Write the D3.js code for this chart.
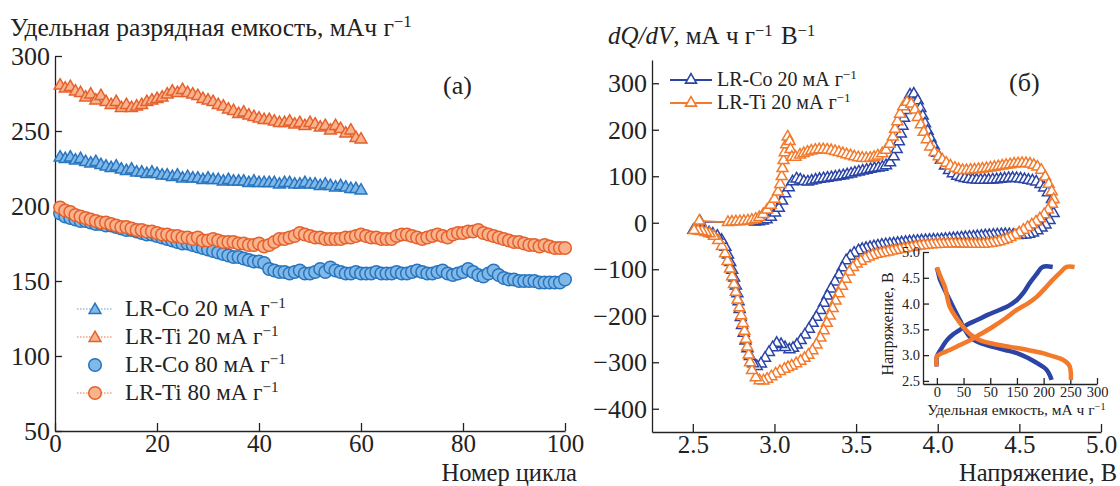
<!DOCTYPE html>
<html>
<head>
<meta charset="utf-8">
<script src="https://cdn.jsdelivr.net/npm/d3@7"></script>
<style>
  body { margin: 0; background: #fff; }
  svg { display: block; }
  svg text { font-family: "Liberation Serif", "Times New Roman", Times, "DejaVu Serif", serif !important; fill: #222; }
</style>
</head>
<body>
<svg id="chart" width="1120" height="486" font-family="Liberation Serif, serif"></svg>
<script>
// ---- panel (a): discharge capacity vs cycle ----
const coRate20 = [
  233, 232, 233, 231, 232, 230, 229, 230, 228, 227,
  226, 227, 225, 224, 225, 223, 223, 222, 223, 222,
  221, 221, 220, 221, 219, 220, 219, 219, 218, 219,
  218, 218, 217, 218, 217, 217, 217, 216, 217, 216,
  216, 216, 216, 215, 216, 216, 215, 215, 216, 215,
  215, 214, 215, 214, 213, 214, 213, 212, 212, 211
];
const tiRate20 = [
  281, 279, 280, 277, 276, 273, 275, 271, 274, 270,
  268, 270, 266, 268, 266, 267, 268, 270, 271, 272,
  273, 275, 277, 276, 278, 276, 275, 274, 272, 271,
  270, 268, 267, 265, 264, 262, 263, 261, 260, 259,
  258, 258, 257, 256, 256, 257, 255, 256, 254, 256,
  255, 253, 254, 251, 254, 252, 249, 251, 246, 245
];
const coRate80 = [
  195, 193, 192, 191, 190, 190, 189, 188, 188, 187,
  187, 186, 185, 184, 184, 183, 182, 181, 181, 180,
  179, 178, 177, 176, 175, 175, 174, 173, 172, 171,
  170, 169, 168, 167, 166, 166, 165, 164, 163, 163,
  162, 158, 157, 156, 156, 155, 156, 157, 155, 155,
  156, 158, 156, 159, 157, 156, 155, 155, 156, 155,
  155, 155, 156, 155, 155, 155, 156, 155, 155, 156,
  157, 156, 155, 155, 156, 157, 155, 154, 155, 156,
  158, 156, 154, 153, 155, 157, 154, 152, 151, 151,
  150, 150, 150, 150, 149, 149, 149, 149, 149, 151
];
const tiRate80 = [
  199, 197, 196, 194, 193, 192, 191, 190, 189, 189,
  188, 187, 186, 186, 185, 184, 184, 183, 183, 182,
  181, 181, 180, 180, 179, 179, 178, 179, 177, 177,
  178, 177, 176, 176, 176, 175, 175, 174, 174, 175,
  173, 174, 176, 178, 178, 179, 180, 182, 181, 180,
  179, 179, 178, 178, 178, 178, 179, 179, 180, 181,
  180, 179, 179, 178, 178, 178, 180, 181, 181, 180,
  179, 178, 179, 180, 181, 180, 179, 181, 182, 182,
  183, 183, 184, 182, 181, 180, 179, 178, 177, 176,
  176, 175, 174, 174, 173, 174, 173, 172, 172, 172
];
const leftXTicks = [0, 20, 40, 60, 80, 100];
const leftYTicks = [50, 100, 150, 200, 250, 300];
const leftLegend = ["LR-Co 20 мА г", "LR-Ti 20 мА г", "LR-Co 80 мА г", "LR-Ti 80 мА г"];

// ---- panel (б): dQ/dV vs voltage, [V, dQ/dV] ----
const coCharge = [
  [2.545, 2], [2.88, 2], [2.93, 4], [2.97, 10], [3.0, 20], [3.03, 33], [3.06, 59], [3.09, 77],
  [3.11, 88], [3.14, 95], [3.17, 90], [3.2, 88], [3.25, 92], [3.3, 95], [3.36, 98], [3.44, 103],
  [3.52, 110], [3.6, 116], [3.67, 121], [3.71, 130], [3.74, 150], [3.77, 185], [3.8, 235],
  [3.82, 265], [3.84, 279], [3.86, 275], [3.89, 250], [3.93, 205], [3.97, 170], [4.01, 140],
  [4.05, 120], [4.1, 104], [4.17, 95], [4.26, 92], [4.36, 93], [4.46, 96], [4.55, 92],
  [4.61, 87], [4.66, 72], [4.7, 50], [4.72, 35]
];
const coDischarge = [
  [4.71, 20], [4.68, 3], [4.64, -10], [4.58, -22], [4.5, -27], [4.42, -25], [4.32, -27],
  [4.22, -30], [4.12, -33], [4.02, -36], [3.92, -38], [3.82, -41], [3.75, -44], [3.64, -49],
  [3.52, -59], [3.47, -70], [3.44, -81], [3.4, -109], [3.34, -146], [3.28, -189], [3.23, -218],
  [3.19, -239], [3.13, -265], [3.09, -273], [3.05, -264], [3.02, -258], [2.98, -272],
  [2.94, -292], [2.905, -307], [2.88, -308], [2.86, -295], [2.845, -283], [2.82, -250],
  [2.8, -218], [2.77, -146], [2.74, -100], [2.72, -74], [2.69, -45], [2.66, -31], [2.6, -21],
  [2.54, -16], [2.49, -16]
];
const tiCharge = [
  [2.54, 4], [2.715, 1], [2.75, 2], [2.8, 3], [2.85, 5], [2.9, 10], [2.93, 18], [2.96, 30],
  [2.99, 45], [3.02, 65], [3.04, 90], [3.05, 118], [3.06, 145], [3.07, 165], [3.085, 188],
  [3.095, 170], [3.11, 140], [3.15, 145], [3.2, 152], [3.26, 157], [3.32, 157], [3.38, 153],
  [3.45, 146], [3.52, 140], [3.58, 139], [3.64, 145], [3.68, 155], [3.72, 180], [3.75, 215],
  [3.78, 243], [3.8, 256], [3.82, 260], [3.85, 250], [3.88, 225], [3.92, 190], [3.96, 160],
  [4.01, 141], [4.08, 122], [4.15, 113], [4.22, 114], [4.32, 118], [4.42, 124], [4.52, 128],
  [4.58, 125], [4.63, 115], [4.67, 90], [4.7, 65], [4.71, 50]
];
const tiDischarge = [
  [4.7, 40], [4.67, 25], [4.62, 7], [4.55, -10], [4.48, -25], [4.4, -38], [4.3, -45],
  [4.2, -46], [4.1, -45], [4.0, -46], [3.9, -49], [3.8, -55], [3.7, -62], [3.6, -70],
  [3.53, -82], [3.47, -100], [3.43, -125], [3.39, -155], [3.35, -190], [3.31, -225],
  [3.27, -255], [3.22, -280], [3.17, -295], [3.12, -305], [3.07, -313], [3.02, -322],
  [2.97, -333], [2.93, -340], [2.9, -338], [2.88, -330], [2.86, -315], [2.84, -280],
  [2.82, -240], [2.8, -205], [2.78, -175], [2.76, -145], [2.74, -115], [2.71, -80],
  [2.68, -52], [2.64, -32], [2.6, -23], [2.55, -18], [2.49, -16]
];
const rightXTicks = [2.5, 3.0, 3.5, 4.0, 4.5, 5.0];
const rightYTicks = [-400, -300, -200, -100, 0, 100, 200, 300];
const rightLegend = ["LR-Co 20 мА г", "LR-Ti 20 мА г"];

// ---- inset: voltage vs capacity, [capacity, V] ----
const coInsetCharge = [
  [0, 2.78], [0, 2.97], [8, 3.12], [19, 3.29], [30, 3.4], [43, 3.49], [58, 3.6], [75, 3.68],
  [95, 3.78], [118, 3.88], [135, 3.96], [150, 4.07], [163, 4.22], [174, 4.4], [186, 4.56],
  [198, 4.71], [217, 4.71]
];
const coInsetDischarge = [
  [0, 4.7], [3, 4.58], [6, 4.46], [15, 4.26], [24, 4.07], [33, 3.88], [43, 3.68], [52, 3.5],
  [62, 3.35], [80, 3.24], [105, 3.16], [128, 3.1], [150, 3.04], [170, 2.95], [187, 2.85],
  [198, 2.78], [206, 2.71], [212, 2.6], [215, 2.52]
];
const tiInsetCharge = [
  [0, 2.78], [0, 2.97], [10, 3.04], [24, 3.1], [42, 3.19], [62, 3.29], [82, 3.41],
  [105, 3.55], [128, 3.71], [150, 3.88], [170, 4.0], [187, 4.13], [203, 4.3], [217, 4.46],
  [230, 4.59], [243, 4.71], [258, 4.71]
];
const tiInsetDischarge = [
  [0, 4.7], [7, 4.52], [15, 4.32], [24, 3.94], [36, 3.73], [49, 3.55], [63, 3.4], [80, 3.29],
  [105, 3.22], [137, 3.16], [170, 3.1], [198, 3.04], [220, 2.97], [236, 2.91], [245, 2.84],
  [249, 2.78], [251, 2.65], [251, 2.52]
];
const insetXTicks = [0, 50, 100, 150, 200, 250, 300];
const insetXLabels = ["0", "50", "50", "150", "200", "250", "300"];
const insetYTicks = [2.5, 3.0, 3.5, 4.0, 4.5, 5.0];

const BLUE_L = { fill: "#80b9e8", stroke: "#2774bf", line: "#8fc0e8" };
const ORANGE_L = { fill: "#f9b38c", stroke: "#e5602c", line: "#f5a07a" };
const BLUE_R = "#2b44a6";
const ORANGE_R = "#f37a2b";
const SERIF = '"Liberation Serif", "Times New Roman", Times, "DejaVu Serif", serif';

const svg = d3.select("#chart");

function styleAxis(g, fontSize) {
  g.attr("font-family", null).attr("font-size", null);
  g.selectAll("path.domain").attr("stroke", "#222").attr("stroke-width", 1.3);
  g.selectAll(".tick line").attr("stroke", "#222").attr("stroke-width", 1.3);
  g.selectAll(".tick text")
    .attr("fill", "#222")
    .style("font-family", SERIF)
    .style("font-size", fontSize + "px");
}

// label with a superscript "−1"
function supText(parent, x, y, parts, size, anchor) {
  const t = parent.append("text").attr("x", x).attr("y", y)
    .style("font-family", SERIF)
    .style("font-size", size + "px").attr("text-anchor", anchor || "start");
  parts.forEach((p) => {
    if (p.sup) {
      t.append("tspan").attr("dy", -size * 0.34).style("font-size", size * 0.66 + "px").text(p.t);
      t.append("tspan").attr("dy", size * 0.34).text("\u200a");
    } else {
      t.append("tspan").style("font-style", p.italic ? "italic" : null).text(p.t);
    }
  });
  return t;
}

// ================= panel (a) =================
const xL = d3.scaleLinear().domain([0, 100]).range([55, 565]);
const yL = d3.scaleLinear().domain([50, 300]).range([431, 56]);

const gA = svg.append("g");

gA.append("g")
  .attr("transform", `translate(0,${yL(50)})`)
  .call(d3.axisBottom(xL).tickValues(leftXTicks).tickSizeInner(-8).tickSizeOuter(0).tickPadding(3.5).tickFormat(d3.format("d")))
  .call((g) => styleAxis(g, 25));
gA.append("g")
  .attr("transform", `translate(${xL(0)},0)`)
  .call(d3.axisLeft(yL).tickValues(leftYTicks).tickSizeInner(-7).tickSizeOuter(0).tickPadding(5).tickFormat(d3.format("d")))
  .call((g) => styleAxis(g, 26));

const seriesA = [
  { values: tiRate80, shape: "circle", c: ORANGE_L },
  { values: coRate80, shape: "circle", c: BLUE_L },
  { values: coRate20, shape: "triangle", c: BLUE_L },
  { values: tiRate20, shape: "triangle", c: ORANGE_L }
];
const drawOrderA = [seriesA[1], seriesA[0], seriesA[2], seriesA[3]];

const shadowLine = d3.line().x((d, i) => xL(i + 1)).y((d) => yL(d) + 3).curve(d3.curveBasis);
drawOrderA.forEach((s) => {
  gA.append("path")
    .attr("d", shadowLine(s.values))
    .attr("fill", "none")
    .attr("stroke", "#8d949a")
    .attr("stroke-width", 4)
    .attr("opacity", 0.55);
});

const triA = d3.symbol(d3.symbolTriangle).size(60);
drawOrderA.forEach((s) => {
  const marks = gA.append("g");
  if (s.shape === "circle") {
    marks.selectAll("circle").data(s.values).enter().append("circle")
      .attr("cx", (d, i) => xL(i + 1))
      .attr("cy", (d) => yL(d))
      .attr("r", 6.3)
      .attr("fill", s.c.fill)
      .attr("stroke", s.c.stroke)
      .attr("stroke-width", 1.5);
  } else {
    marks.selectAll("path").data(s.values).enter().append("path")
      .attr("d", triA)
      .attr("transform", (d, i) => `translate(${xL(i + 1)},${yL(d) + 1})`)
      .attr("fill", s.c.fill)
      .attr("stroke", s.c.stroke)
      .attr("stroke-width", 1.5);
  }
});

supText(gA, 10, 36, [{ t: "Удельная разрядная емкость, мАч г" }, { t: "−1", sup: true }], 25.5);
gA.append("text").attr("x", 577).attr("y", 481).attr("text-anchor", "end").style("font-size", "24.5px").text("Номер цикла");
gA.append("text").attr("x", 443).attr("y", 94).style("font-size", "26px").text("(а)");

// legend (a)
const legA = gA.append("g");
[
  { c: BLUE_L, shape: "triangle", line: true },
  { c: ORANGE_L, shape: "triangle", line: true },
  { c: BLUE_L, shape: "circle", line: false },
  { c: ORANGE_L, shape: "circle", line: true }
].forEach((d, i) => {
  const y = 309 + i * 28;
  if (d.line) {
    legA.append("line").attr("x1", 77).attr("x2", 113).attr("y1", y).attr("y2", y)
      .attr("stroke", d.c.line).attr("stroke-width", 1.5).attr("stroke-dasharray", "1.5,1.5");
  }
  if (d.shape === "circle") {
    legA.append("circle").attr("cx", 95).attr("cy", y).attr("r", 6.3)
      .attr("fill", d.c.fill).attr("stroke", d.c.stroke).attr("stroke-width", 1.5);
  } else {
    legA.append("path").attr("d", triA).attr("transform", `translate(95,${y + 1})`)
      .attr("fill", d.c.fill).attr("stroke", d.c.stroke).attr("stroke-width", 1.5);
  }
  supText(legA, 125, y + 7, [{ t: leftLegend[i] }, { t: "−1", sup: true }], 23);
});

// ================= panel (б) =================
const xR = d3.scaleLinear().domain([2.25, 5.0]).range([652, 1101]);
const yR = d3.scaleLinear().domain([-450, 350]).range([432, 60]);
const gB = svg.append("g");

gB.append("g")
  .attr("transform", `translate(0,${yR(-450)})`)
  .call(d3.axisBottom(xR).tickValues(rightXTicks).tickSizeInner(-8).tickSizeOuter(0).tickPadding(3.5).tickFormat(d3.format(".1f")))
  .call((g) => styleAxis(g, 25));
gB.append("g")
  .attr("transform", `translate(${xR(2.25)},0)`)
  .call(d3.axisLeft(yR).tickValues(rightYTicks).tickSizeInner(-7).tickSizeOuter(0).tickPadding(5)
    .tickFormat((d) => (d < 0 ? "−" + Math.abs(d) : d)))
  .call((g) => styleAxis(g, 26));

const curveR = d3.line().x((d) => xR(d[0])).y((d) => yR(d[1])).curve(d3.curveCatmullRom.alpha(0.5));
const triR = d3.symbol(d3.symbolTriangle).size(52);

// walk along a drawn path and put a marker when it has moved far enough
function markerSpots(node, minDx, maxDs) {
  const len = node.getTotalLength();
  let last = node.getPointAtLength(0);
  let lastS = 0;
  const spots = [last];
  for (let s = 1; s <= len; s++) {
    const p = node.getPointAtLength(s);
    if (Math.abs(p.x - last.x) >= minDx || s - lastS >= maxDs) {
      spots.push(p);
      last = p;
      lastS = s;
    }
  }
  return spots;
}

function drawLoop(charge, discharge, color) {
  const g = gB.append("g");
  const first = charge[0];
  const last = discharge[discharge.length - 1];
  const straight = d3.line().x((d) => xR(d[0])).y((d) => yR(d[1]));
  // join end of discharge to start of charge
  g.append("path").attr("d", straight([last, first]))
    .attr("fill", "none").attr("stroke", color).attr("stroke-width", 1.8);
  g.append("path").attr("d", straight(charge.slice(0, 2)))
    .attr("fill", "none").attr("stroke", color).attr("stroke-width", 1.8);
  const pc = g.append("path").attr("d", curveR(charge.slice(1)))
    .attr("fill", "none").attr("stroke", color).attr("stroke-width", 1.8);
  const pd = g.append("path").attr("d", curveR(discharge))
    .attr("fill", "none").attr("stroke", color).attr("stroke-width", 1.8);
  const spots = markerSpots(pc.node(), 3.6, 8).concat(markerSpots(pd.node(), 3.6, 8));
  spots.push({ x: xR(first[0]), y: yR(first[1]) });
  g.selectAll("path.mk").data(spots).enter().append("path")
    .attr("class", "mk")
    .attr("d", triR)
    .attr("transform", (d) => `translate(${d.x},${d.y})`)
    .attr("fill", "#fff")
    .attr("stroke", color)
    .attr("stroke-width", 1.5);
}
drawLoop(coCharge, coDischarge, BLUE_R);
drawLoop(tiCharge, tiDischarge, ORANGE_R);

supText(gB, 608, 44, [{ t: "dQ/dV", italic: true }, { t: ", мА ч г" }, { t: "−1", sup: true }, { t: " В" }, { t: "−1", sup: true }], 25);
gB.append("text").attr("x", 1117).attr("y", 481).attr("text-anchor", "end").style("font-size", "24.5px").text("Напряжение, В");
gB.append("text").attr("x", 1009).attr("y", 91).style("font-size", "26px").text("(б)");

// legend (б)
const legB = gB.append("g");
[BLUE_R, ORANGE_R].forEach((c, i) => {
  const y = 80 + i * 23;
  legB.append("line").attr("x1", 670).attr("x2", 712).attr("y1", y).attr("y2", y)
    .attr("stroke", c).attr("stroke-width", 2.2);
  legB.append("path").attr("d", triR).attr("transform", `translate(691,${y})`)
    .attr("fill", "#fff").attr("stroke", c).attr("stroke-width", 1.6);
  supText(legB, 717, y + 6, [{ t: rightLegend[i] }, { t: "−1", sup: true }], 20);
});

// ================= inset =================
const xI = d3.scaleLinear().domain([-26, 300]).range([923, 1097]);
const yI = d3.scaleLinear().domain([2.44, 5.0]).range([384, 252]);
const gI = svg.append("g");

gI.append("g")
  .attr("transform", `translate(0,${yI(2.44)})`)
  .call(d3.axisBottom(xI).tickValues(insetXTicks).tickSizeInner(-6).tickSizeOuter(0).tickPadding(3)
    .tickFormat((d, i) => insetXLabels[i]))
  .call((g) => styleAxis(g, 14.5));
gI.append("g")
  .attr("transform", `translate(${xI(-26)},0)`)
  .call(d3.axisLeft(yI).tickValues(insetYTicks).tickSizeInner(-6).tickSizeOuter(0).tickPadding(3).tickFormat(d3.format(".1f")))
  .call((g) => styleAxis(g, 14.5));

const lineI = d3.line().x((d) => xI(d[0])).y((d) => yI(d[1])).curve(d3.curveCatmullRom.alpha(0.5));
[
  [coInsetCharge, BLUE_R], [coInsetDischarge, BLUE_R],
  [tiInsetCharge, ORANGE_R], [tiInsetDischarge, ORANGE_R]
].forEach(([pts, c]) => {
  gI.append("path").attr("d", lineI(pts)).attr("fill", "none")
    .attr("stroke", c).attr("stroke-width", 4.5).attr("stroke-linejoin", "round");
});

supText(gI, 1017, 415, [{ t: "Удельная емкость, мА ч г" }, { t: "−1", sup: true }], 15.5, "middle");
gI.append("text")
  .attr("transform", "translate(893,324) rotate(-90)")
  .attr("text-anchor", "middle")
  .style("font-size", "16px")
  .text("Напряжение, В");
</script>
</body>
</html>
